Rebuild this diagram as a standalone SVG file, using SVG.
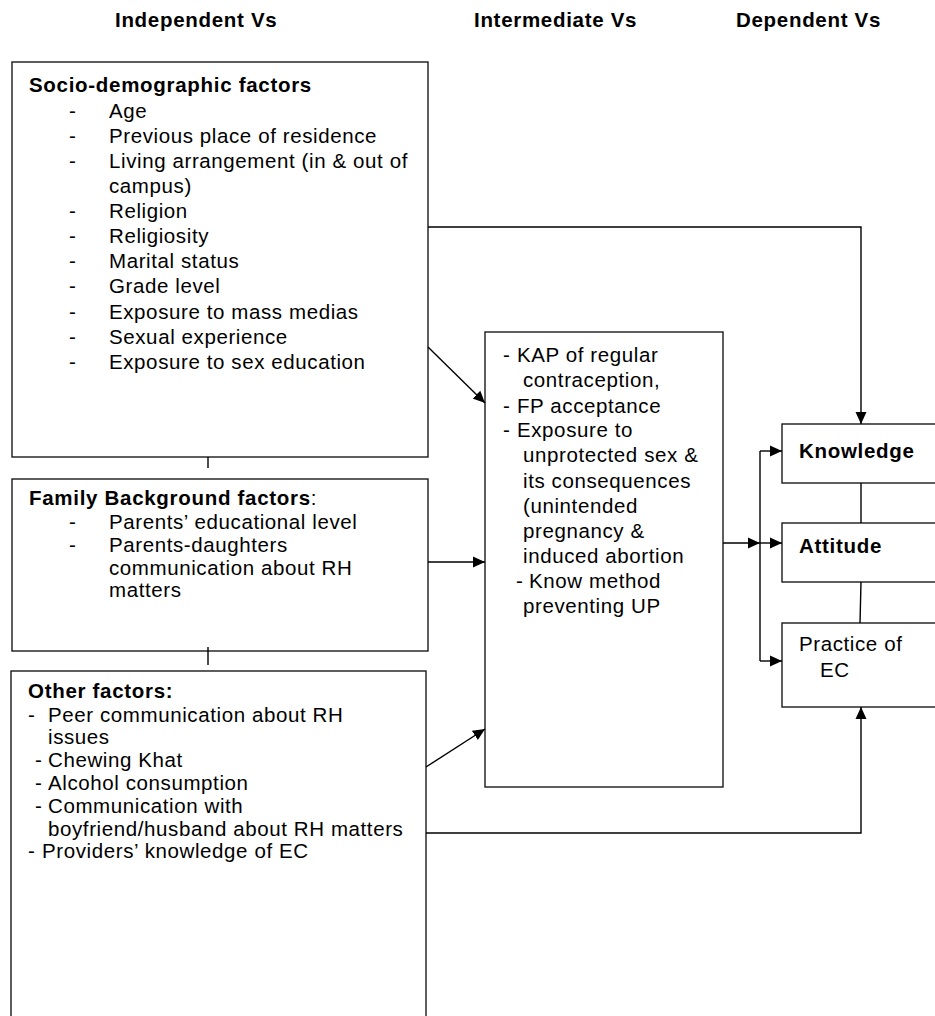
<svg xmlns="http://www.w3.org/2000/svg" width="935" height="1016" viewBox="0 0 935 1016">
<defs>
<marker id="ah" markerUnits="userSpaceOnUse" markerWidth="14" markerHeight="13" refX="12" refY="6" orient="auto">
<path d="M0,0.5 L12,6 L0,11.5 z" fill="#000"/>
</marker>
<style>
.box{fill:#fff;stroke:#1a1a1a;stroke-width:1.4}
.c{fill:none;stroke:#000;stroke-width:1.4}
.a{fill:none;stroke:#000;stroke-width:1.4;marker-end:url(#ah)}
text{font-family:"Liberation Sans",Arial,sans-serif;font-size:20.5px;letter-spacing:0.6px;fill:#000}
.b{font-weight:bold;letter-spacing:0.7px}
</style>
</defs>
<rect width="935" height="1016" fill="#fff"/>
<g id="headers">
<text class="b" x="115" y="27">Independent Vs</text>
<text class="b" x="474" y="27">Intermediate Vs</text>
<text class="b" x="736" y="27">Dependent Vs</text>
</g>
<g id="socio">
<rect class="box" x="12" y="62" width="416" height="395"/>
<text class="b" x="29" y="92">Socio-demographic factors</text>
<text x="69" y="118">-<tspan x="109">Age</tspan></text>
<text x="69" y="143">-<tspan x="109">Previous place of residence</tspan></text>
<text x="69" y="168">-<tspan x="109">Living arrangement (in &amp; out of</tspan></text>
<text x="109" y="193">campus)</text>
<text x="69" y="218">-<tspan x="109">Religion</tspan></text>
<text x="69" y="243">-<tspan x="109">Religiosity</tspan></text>
<text x="69" y="268">-<tspan x="109">Marital status</tspan></text>
<text x="69" y="293">-<tspan x="109">Grade level</tspan></text>
<text x="69" y="319">-<tspan x="109">Exposure to mass medias</tspan></text>
<text x="69" y="344">-<tspan x="109">Sexual experience</tspan></text>
<text x="69" y="369">-<tspan x="109">Exposure to sex education</tspan></text>
</g>
<g id="family">
<rect class="box" x="12" y="479" width="416" height="172"/>
<text x="29" y="505"><tspan class="b">Family Background factors</tspan>:</text>
<text x="69" y="529">-<tspan x="109">Parents’ educational level</tspan></text>
<text x="69" y="552">-<tspan x="109">Parents-daughters</tspan></text>
<text x="109" y="575">communication about RH</text>
<text x="109" y="597">matters</text>
</g>
<g id="other">
<rect class="box" x="11" y="671" width="415" height="360"/>
<text class="b" x="28" y="698">Other factors:</text>
<text x="28" y="722">-<tspan x="48">Peer communication about RH</tspan></text>
<text x="48" y="744">issues</text>
<text x="35" y="767">-<tspan x="48">Chewing Khat</tspan></text>
<text x="35" y="790">-<tspan x="48">Alcohol consumption</tspan></text>
<text x="35" y="813">-<tspan x="48">Communication with</tspan></text>
<text x="48" y="836">boyfriend/husband about RH matters</text>
<text x="28" y="858">-<tspan x="42">Providers’ knowledge of EC</tspan></text>
</g>
<g id="intermediate">
<rect class="box" x="485" y="332" width="238" height="455"/>
<text x="503" y="362">-<tspan x="517">KAP of regular</tspan></text>
<text x="523" y="387">contraception,</text>
<text x="503" y="413">-<tspan x="517">FP acceptance</tspan></text>
<text x="503" y="437">-<tspan x="517">Exposure to</tspan></text>
<text x="523" y="462">unprotected sex &amp;</text>
<text x="523" y="488">its consequences</text>
<text x="523" y="513">(unintended</text>
<text x="523" y="538">pregnancy &amp;</text>
<text x="523" y="563">induced abortion</text>
<text x="516" y="588">-<tspan x="529">Know method</tspan></text>
<text x="523" y="613">preventing UP</text>
</g>
<g id="knowledge">
<rect class="box" x="782" y="424" width="170" height="59"/>
<text class="b" x="799" y="458">Knowledge</text>
</g>
<g id="attitude">
<rect class="box" x="782" y="523" width="170" height="59"/>
<text class="b" x="799" y="553">Attitude</text>
</g>
<g id="practice">
<rect class="box" x="782" y="623" width="170" height="84"/>
<text x="799" y="651">Practice of</text>
<text x="820" y="677">EC</text>
</g>
<g id="connectors">
<path class="c" d="M208,457 V468"/>
<path class="c" d="M208,647 V665"/>
<path class="a" d="M428,227 H861 V424"/>
<path class="a" d="M428,347 L485,403"/>
<path class="a" d="M428,562 H485"/>
<path class="a" d="M426,767 L485,729"/>
<path class="a" d="M426,833 H861 V707"/>
<path class="a" d="M723,543 H760"/>
<path class="c" d="M760,451 V661"/>
<path class="a" d="M760,451 H782"/>
<path class="a" d="M760,543 H782"/>
<path class="a" d="M760,661 H782"/>
<path class="c" d="M861,483 V523"/>
<path class="c" d="M861,582 L860,623"/>
</g>
</svg>
